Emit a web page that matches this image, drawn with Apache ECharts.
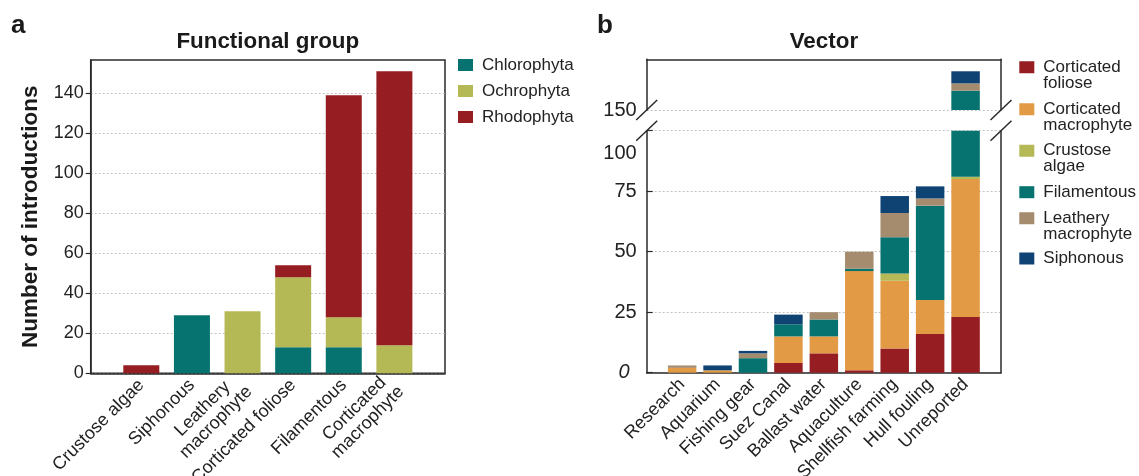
<!DOCTYPE html>
<html>
<head>
<meta charset="utf-8">
<script src="https://cdn.jsdelivr.net/npm/echarts@6/dist/echarts.min.js"></script>
<style>
  html, body { margin: 0; padding: 0; background: #fff; }
  #chart { width: 1139px; height: 476px; }
</style>
</head>
<body>
<div id="chart"></div>
<script>
// ---- a: introductions per functional group, split by phylum ----
const groups = ['Crustose algae', 'Siphonous', 'Leathery\nmacrophyte', 'Corticated foliose', 'Filamentous', 'Corticated\nmacrophyte'];
const chlorophyta = [0, 29, 0, 13, 13, 0];
const ochrophyta  = [0, 0, 31, 35, 15, 14];
const rhodophyta  = [4, 0, 0, 6, 111, 137];
const ticksA = [0, 20, 40, 60, 80, 100, 120, 140];

// ---- b: introductions per vector, split by functional group ----
const vectors = ['Research', 'Aquarium', 'Fishing gear', 'Suez Canal', 'Ballast water', 'Aquaculture', 'Shellfish farming', 'Hull fouling', 'Unreported'];
const corticatedFoliose    = [0, 0, 0, 4, 8, 1, 10, 16, 23];
const corticatedMacrophyte = [2, 1, 0, 11, 7, 41, 28, 14, 57];
const crustoseAlgae        = [0, 0, 0, 0, 0, 0, 3, 0, 1];
const filamentous          = [0, 0, 6, 5, 7, 1, 15, 39, 77];
const leatheryMacrophyte   = [1, 0, 2, 0, 3, 7, 10, 3, 3];
const siphonous            = [0, 2, 1, 4, 0, 0, 7, 5, 5];
const ticksBLower = [0, 25, 50, 75, 100];
const ticksBUpper = [150];
const breakFrom = 100, breakTo = 150;

// ---- styling ----
const FONT = '"Liberation Sans", Arial, Helvetica, sans-serif';
const INK = '#222';
const RED = '#961d22', ORANGE = '#e29a45', OLIVE = '#b5b955', TEAL = '#077370', TAN = '#a58c6e', NAVY = '#0f4374';

// plot areas (px)
const gridA  = { left: 90.7,  right: 694, top: 60,    bottom: 102.7 };
const gridBL = { left: 646.7, right: 138, top: 130.7, bottom: 103.3 };
const gridBU = { left: 646.7, right: 138, top: 59.3,  bottom: 366 };
const lowH = 476 - gridBL.top - gridBL.bottom;
const upH  = 476 - gridBU.top - gridBU.bottom;
const upperMax = breakTo + upH / lowH * breakFrom;   // same scale above the break

// one empty slot at each end of the category axes
const padCats = arr => [''].concat(arr, ['']);
const padVals = arr => [null].concat(arr, [null]);

const gridLine = { show: true, lineStyle: { color: '#c2c2c2', width: 1, type: [2, 2] } };
const axisLineStyle = { show: true, lineStyle: { color: '#2a2a2a', width: 1.5 } };

const centeredLines = v => v === '' ? '' : v.split('\n').map(s => '{c|' + s + '}').join('\n');

const seriesA = [
  ['Chlorophyta', chlorophyta, TEAL],
  ['Ochrophyta', ochrophyta, OLIVE],
  ['Rhodophyta', rhodophyta, RED]
].map(([name, vals, color]) => ({
  type: 'bar', name, stack: 'a', xAxisIndex: 0, yAxisIndex: 0,
  barWidth: 36, itemStyle: { color }, data: padVals(vals)
}));

const groupsB = [
  ['Corticated foliose', corticatedFoliose, RED],
  ['Corticated macrophyte', corticatedMacrophyte, ORANGE],
  ['Crustose algae', crustoseAlgae, OLIVE],
  ['Filamentous', filamentous, TEAL],
  ['Leathery macrophyte', leatheryMacrophyte, TAN],
  ['Siphonous', siphonous, NAVY]
];
const seriesB = [];
groupsB.forEach(([name, vals, color]) => {
  // lower segment (0..100) and upper segment (150..) share the same stacks
  seriesB.push({ type: 'bar', name, stack: 'bl', xAxisIndex: 1, yAxisIndex: 1,
    barWidth: 28.5, itemStyle: { color }, data: padVals(vals) });
  seriesB.push({ type: 'bar', name, stack: 'bu', xAxisIndex: 2, yAxisIndex: 2,
    barWidth: 28.5, itemStyle: { color }, data: padVals(vals) });
});

// legend for b: one block per entry; two-line entries use a tall icon box whose
// swatch occupies the top, so the swatch lines up with the first text line
const legendLabelsB = {
  'Corticated foliose': 'Corticated\nfoliose',
  'Corticated macrophyte': 'Corticated\nmacrophyte',
  'Crustose algae': 'Crustose\nalgae',
  'Filamentous': 'Filamentous',
  'Leathery macrophyte': 'Leathery\nmacrophyte',
  'Siphonous': 'Siphonous'
};
const topSwatch = 'path://M0,0H15V12H0ZM0,27.99H0.01V28H0Z';
const legendTopsB = [58.7, 100.7, 142.3, 183.7, 209.7, 250];
const legendsB = groupsB.map(([name], i) => {
  const label = legendLabelsB[name];
  const twoLines = label.indexOf('\n') >= 0;
  return {
    data: [name], orient: 'vertical', left: 1019.3, top: legendTopsB[i], padding: 0,
    icon: twoLines ? topSwatch : 'rect', itemWidth: 15, itemHeight: twoLines ? 28 : 12,
    symbolKeepAspect: true, selectedMode: false,
    formatter: () => label,
    textStyle: { fontFamily: FONT, fontSize: 17, lineHeight: 16, color: INK, padding: [0, 0, 0, 4] }
  };
});

const boldTitle = size => ({ fontFamily: FONT, fontSize: size, fontWeight: 'bold', color: '#1a1a1a' });

const option = {
  animation: false,
  backgroundColor: '#fff',
  textStyle: { fontFamily: FONT },
  title: [
    { text: 'a', left: 11, top: 13, padding: 0, textStyle: boldTitle(26) },
    { text: 'b', left: 597, top: 13, padding: 0, textStyle: boldTitle(26) },
    { text: 'Functional group', left: 267.8, top: 31, padding: 0, textAlign: 'center', textStyle: boldTitle(22.4) },
    { text: 'Vector', left: 823.9, top: 31, padding: 0, textAlign: 'center', textStyle: boldTitle(22.4) }
  ],
  legend: [
    { data: ['Chlorophyta', 'Ochrophyta', 'Rhodophyta'], orient: 'vertical', left: 458, top: 56.5,
      padding: 0, itemGap: 9, icon: 'rect', itemWidth: 15, itemHeight: 12, selectedMode: false,
      textStyle: { fontFamily: FONT, fontSize: 17, lineHeight: 16, color: INK, padding: [0, 0, 0, 4] } }
  ].concat(legendsB),
  grid: [
    Object.assign({ show: true, borderColor: '#2a2a2a', borderWidth: 1.5, outerBoundsMode: 'none', containLabel: false }, gridA),
    Object.assign({ outerBoundsMode: 'none', containLabel: false }, gridBL),
    Object.assign({ outerBoundsMode: 'none', containLabel: false }, gridBU)
  ],
  xAxis: [
    { type: 'category', gridIndex: 0, data: padCats(groups), boundaryGap: false,
      axisLine: axisLineStyle, axisTick: { show: false }, splitLine: { show: false },
      axisLabel: { interval: 0, rotate: 45, margin: 9, color: INK, fontFamily: FONT, fontSize: 18,
        formatter: centeredLines,
        rich: { c: { align: 'center', fontFamily: FONT, fontSize: 18, lineHeight: 19, color: INK } } } },
    { type: 'category', gridIndex: 1, data: padCats(vectors), boundaryGap: false,
      axisLine: axisLineStyle, axisTick: { show: false }, splitLine: { show: false },
      axisLabel: { interval: 0, rotate: 45, margin: 9, color: INK, fontFamily: FONT, fontSize: 18 } },
    { type: 'category', gridIndex: 2, data: padCats(vectors), boundaryGap: false, position: 'top',
      axisLine: axisLineStyle, axisTick: { show: false }, axisLabel: { show: false }, splitLine: { show: false } }
  ],
  yAxis: [
    { type: 'value', gridIndex: 0, min: 0, max: 156.6, interval: 20,
      name: 'Number of introductions', nameLocation: 'middle', nameGap: 48,
      nameTextStyle: boldTitle(22.5),
      axisLine: axisLineStyle,
      axisTick: { show: true, inside: false, length: 5, customValues: ticksA, lineStyle: { color: '#2a2a2a', width: 1.2 } },
      axisLabel: { margin: 7, color: INK, fontFamily: FONT, fontSize: 18, customValues: ticksA },
      splitLine: gridLine },
    { type: 'value', gridIndex: 1, min: 0, max: breakFrom, interval: 25,
      axisLine: axisLineStyle,
      axisTick: { show: true, inside: true, length: 6, customValues: ticksBLower, lineStyle: { color: '#2a2a2a', width: 1.2 } },
      axisLabel: { margin: 10, color: INK, fontFamily: FONT, fontSize: 20, customValues: ticksBLower,
        formatter: v => v === 0 ? '{z|0}' : (v === breakFrom ? '{h|' + v + '}' : String(v)),
        rich: {
          z: { fontFamily: FONT, fontSize: 20, fontStyle: 'italic', color: INK, padding: [0, 7, 0, 0] },
          h: { fontFamily: FONT, fontSize: 20, color: INK, padding: [45, 0, 0, 0] }
        } },
      splitLine: gridLine },
    { type: 'value', gridIndex: 2, min: breakTo, max: upperMax, interval: 25,
      axisLine: axisLineStyle,
      axisTick: { show: false, customValues: ticksBUpper },
      axisLabel: { margin: 10, color: INK, fontFamily: FONT, fontSize: 20, customValues: ticksBUpper },
      splitLine: gridLine },
    { type: 'value', gridIndex: 1, position: 'right', min: 0, max: breakFrom,
      axisLine: axisLineStyle, axisTick: { show: false }, axisLabel: { show: false }, splitLine: { show: false } },
    { type: 'value', gridIndex: 2, position: 'right', min: breakTo, max: upperMax,
      axisLine: axisLineStyle, axisTick: { show: false }, axisLabel: { show: false }, splitLine: { show: false } }
  ],
  series: seriesA.concat(seriesB)
};

const chart = echarts.init(document.getElementById('chart'), null, { renderer: 'canvas' });
chart.setOption(option);

// diagonal break marks on both sides of the broken axis
const cutYs = [chart.convertToPixel({ yAxisIndex: 2 }, breakTo), chart.convertToPixel({ yAxisIndex: 1 }, breakFrom)];
const edgeXs = [gridBL.left, chart.getWidth() - gridBL.right];
const marks = [];
edgeXs.forEach(x => cutYs.forEach(y => marks.push({
  type: 'line', silent: true, z: 100,
  shape: { x1: x - 10.5, y1: y + 10, x2: x + 10.5, y2: y - 10 },
  style: { stroke: '#2a2a2a', lineWidth: 1.5 }
})));
chart.setOption({ graphic: marks });
</script>
</body>
</html>
